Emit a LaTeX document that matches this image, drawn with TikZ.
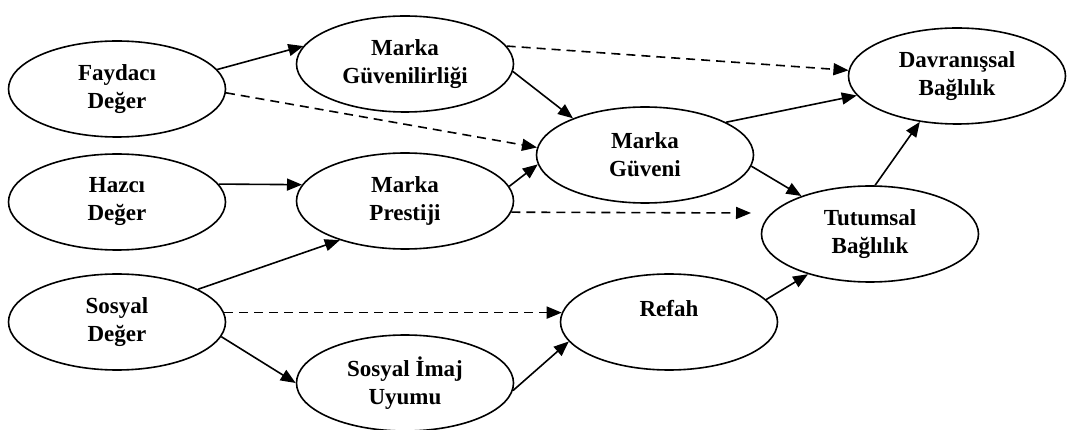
\documentclass[tikz,border=0pt]{standalone}
\usepackage{fontspec}
\setmainfont{Liberation Serif}
\usetikzlibrary{shapes.geometric,arrows.meta}
\tikzset{
  ell/.style={ellipse, draw, line width=1.6pt, minimum width=217pt, minimum height=96pt,
    inner sep=0pt, align=center, font=\fontsize{23pt}{28pt}\selectfont\bfseries},
  arr/.style={line width=1.6pt, -{Triangle[length=15pt,width=12pt]}},
  darr/.style={arr, dash pattern=on 9pt off 6pt},
}
\begin{document}
\begin{tikzpicture}[x=1pt,y=-1pt]
\useasboundingbox (0,0) rectangle (1071,430);
\node[ell] (F)   at (117,89)  {Faydacı\\Değer};
\node[ell] (MG)  at (405,64)  {Marka\\Güvenilirliği};
\node[ell] (D)   at (957,76)  {Davranışsal\\Bağlılık};
\node[ell] (MGv) at (645,155) {Marka\\Güveni};
\node[ell] (H)   at (117,202) {Hazcı\\Değer};
\node[ell] (MP)  at (405,201) {Marka\\Prestiji};
\node[ell] (T)   at (870,234) {Tutumsal\\Bağlılık};
\node[ell] (S)   at (117,322) {Sosyal\\Değer};
\node[ell] (R)   at (669,322) {Refah\\\mbox{}};
\node[ell] (SI)  at (405,383) {Sosyal İmaj\\Uyumu};
\coordinate (Tend) at (751,213);

\draw[arr]  (F.11)  -- (MG.170);
\draw[darr] (F.-2)  -- (MGv.176);
\draw[darr] (MG.10) -- (D.177);
\draw[arr]  (MG.-4) -- (MGv.153);
\draw[arr]  (MGv.22) -- (D.191);
\draw[arr]  (MGv.-6) -- (T.151);
\draw[arr]  (T.84)  -- (D.231);
\draw[arr]  (H.10)  -- (MP.171);
\draw[arr]  (MP.8)  -- (MGv.185);
\draw[darr] (MP.-6) -- (Tend);
\draw[arr]  (S.22)  -- (MP.211);
\draw[darr] (S.5)   -- (R.175);
\draw[arr]  (S.-8)  -- (SI.180);
\draw[arr]  (SI.-4) -- (R.191);
\draw[arr]  (R.13)  -- (T.213);
\end{tikzpicture}
\end{document}
